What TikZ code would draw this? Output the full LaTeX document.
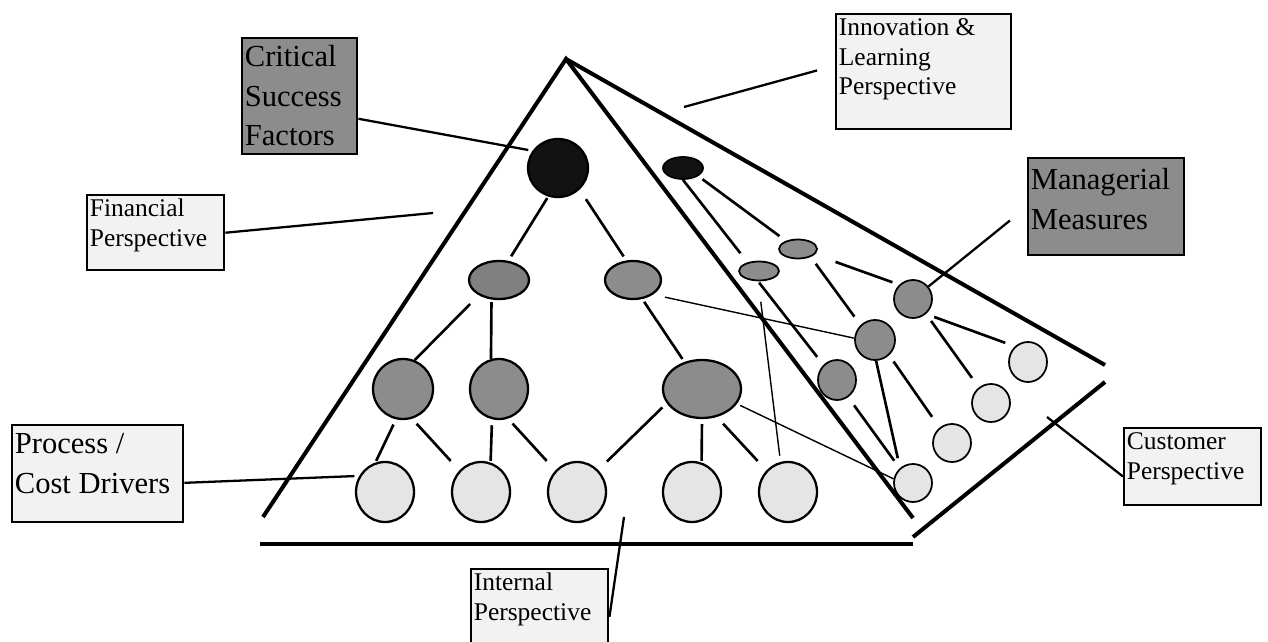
\documentclass[tikz,border=0pt]{standalone}
\usepackage{fontspec}
\setmainfont{Liberation Serif}
\usetikzlibrary{shapes.geometric}
\tikzstyle{lbox}=[draw=black, line width=1.4pt, fill=black!5, anchor=north west, inner sep=0pt]
\tikzstyle{dbox}=[lbox, fill=black!45]
\tikzstyle{blob}=[ellipse, draw=black, line width=1.3pt, inner sep=0pt, fill=black!45]
\tikzstyle{leaf}=[blob, fill=black!10]
\tikzstyle{edge}=[line width=2.3pt]
\tikzstyle{link}=[line width=1.5pt]
\tikzstyle{fine}=[line width=0.8pt]
\tikzstyle{call}=[line width=1.3pt]
\newcommand{\bigtxt}{\fontsize{17.4}{22.7}\selectfont}
\newcommand{\smalltxt}{\fontsize{14.5}{17}\selectfont}
\newcommand{\boxtxt}[3]{\parbox[c][#2][t]{#1}{\raggedright\leftskip=1.5pt\strut #3}}

\begin{document}
\begin{tikzpicture}[x=0.02cm, y=-0.02cm]
				\clip (0,0) rectangle (1268,642);
				% pyramid outline
				\coordinate (apex) at (566,59);
				\draw[edge] (263,517) -- (apex) -- (913,518);
				\draw[edge] (apex) -- (1105,365);
				\draw[edge] (260,544) -- (913,544);
				\draw[edge] (913,537) -- (1105,382);

				% labels
				\node[dbox, font=\bigtxt] (crit) at (241,37) {\boxtxt{2.3cm}{2.32cm}{Critical\\Success\\Factors}};
				\node[lbox, font=\smalltxt] (fin) at (86,194) {\boxtxt{2.74cm}{1.5cm}{Financial\\Perspective}};
				\node[lbox, font=\smalltxt] (inn) at (835,13) {\boxtxt{3.5cm}{2.3cm}{Innovation \&\\Learning\\Perspective}};
				\node[dbox, font=\bigtxt] (mm) at (1027,157) {\boxtxt{3.12cm}{1.94cm}{\rule{0pt}{18pt}Managerial\\Measures}};
				\node[lbox, font=\bigtxt] (pro) at (11,424) {\boxtxt{3.42cm}{1.94cm}{Process /\\Cost Drivers}};
				\node[lbox, font=\smalltxt] (int) at (470,568) {\boxtxt{2.74cm}{1.56cm}{Internal\\Perspective}};
				\node[lbox, font=\smalltxt] (cus) at (1123,427) {\boxtxt{2.74cm}{1.54cm}{Customer\\Perspective}};

				% left face
				\node[blob, fill=black!93, minimum width=1.2cm, minimum height=1.16cm] (crs) at (558,168) {};
				\node[blob, fill=black!50, minimum width=1.2cm, minimum height=0.76cm] (fa) at (499,280) {};
				\node[blob, minimum width=1.12cm, minimum height=0.76cm] (fb) at (633,280) {};
				\node[blob, minimum width=1.2cm, minimum height=1.2cm] (ia) at (403,389) {};
				\node[blob, minimum width=1.16cm, minimum height=1.2cm] (ib) at (499,389) {};
				\node[blob, minimum width=1.56cm, minimum height=1.16cm] (ic) at (702,389) {};
				\foreach \n/\x in {d1/385, d2/481, d3/577, d4/692, d5/788}
					\node[leaf, minimum width=1.16cm, minimum height=1.2cm] (\n) at (\x,492) {};

				% right face
				\node[blob, fill=black!93, line width=1pt, minimum width=0.8cm, minimum height=0.44cm] (ka) at (683,168) {};
				\node[blob, line width=1pt, minimum width=0.76cm, minimum height=0.38cm] (kb) at (798,249) {};
				\node[blob, line width=1pt, minimum width=0.8cm, minimum height=0.38cm] (kc) at (759,271) {};
				\node[blob, line width=1pt, minimum width=0.76cm, minimum height=0.76cm] (ma) at (913,299) {};
				\node[blob, line width=1pt, minimum width=0.8cm, minimum height=0.8cm] (mb) at (875,340) {};
				\node[blob, line width=1pt, minimum width=0.76cm, minimum height=0.8cm] (mc) at (837,380) {};
				\node[leaf, line width=1pt, minimum width=0.76cm, minimum height=0.8cm] (wa) at (1028,362) {};
				\node[leaf, line width=1pt, minimum width=0.76cm, minimum height=0.76cm] (wb) at (991,403) {};
				\node[leaf, line width=1pt, minimum width=0.76cm, minimum height=0.76cm] (wc) at (952,443) {};
				\node[leaf, line width=1pt, minimum width=0.76cm, minimum height=0.76cm] (wd) at (913,483) {};

				% tree links, left face
				\draw[link, shorten <=1pt, shorten >=3pt] (crs.-109) -- (fa.64);
				\draw[link, shorten <=6.5pt, shorten >=2.7pt] (crs.-45) -- (fb.109);
				\draw[link, shorten <=7pt] (fa.-143) -- (ia.68);
				\draw[link, shorten <=1.5pt] (fa.-111) -- (ib.105);
				\draw[link, shorten <=1.9pt, shorten >=2pt] (fb.-64) -- (ic.123);
				\draw[link, shorten <=3.3pt, shorten >=1pt] (ia.-103) -- (d1.108);
				\draw[link, shorten <=3.8pt, shorten >=7.3pt] (ia.-73) -- (d2.135);
				\draw[link, shorten <=3.4pt, shorten >=0.9pt] (ib.-103) -- (d2.72);
				\draw[link, shorten <=3.8pt, shorten >=7.3pt] (ib.-73) -- (d3.135);
				\draw[link, shorten <=3.4pt, shorten >=6.9pt] (ic.-158) -- (d3.46);
				\draw[link, shorten <=2.8pt, shorten >=0.9pt] (ic.-90) -- (d4.72);
				\draw[link, shorten <=5.2pt, shorten >=7.3pt] (ic.-62) -- (d5.135);

				% cross links
				\draw[fine, shorten <=6.9pt] (fb.-36) -- (mb.175);
				\draw[fine, shorten <=2pt] (ic.-23) -- (wd.168);
				\draw[fine, shorten <=11.7pt, shorten >=3.5pt] (kc.-94) -- (d5.104);

				% tree links, right face
				\draw[link, shorten >=6.6pt] (ka.-90) -- (kc.143);
				\draw[link, shorten <=3pt, shorten >=4.5pt] (ka.-28) -- (kb.146);
				\draw[link, shorten <=12.5pt, shorten >=4.1pt] (kb.-18) -- (ma.134);
				\draw[link, shorten <=4.8pt, shorten >=5.9pt] (kb.-32) -- (mb.134);
				\draw[link, shorten <=0.9pt, shorten >=5.7pt] (kc.-95) -- (mc.132);
				\draw[link, shorten <=4.9pt, shorten >=5.8pt] (ma.-49) -- (wa.130);
				\draw[link, shorten <=4.9pt, shorten >=6.6pt] (ma.-49) -- (wb.128);
				\draw[link, shorten <=4.3pt, shorten >=7.4pt] (mb.-47) -- (wc.129);
				\draw[link, shorten >=5.7pt] (mb.-87) -- (wd.131);
				\draw[link, shorten <=5.7pt, shorten >=5.3pt] (mc.-57) -- (wd.132);

				% callouts
				\coordinate (finpt) at (433,213);
				\coordinate (innpt) at (684,107);
				\coordinate (intpt) at (624,517);
				\coordinate (cuspt) at (1047,417);
				\draw[call, shorten >=2.4pt] (crit.-21) -- (crs.146);
				\draw[call] (fin.east) -- (finpt);
				\draw[call, shorten >=10.6pt] (innpt) -- (inn.176);
				\draw[call, shorten >=12.5pt] (ma.39) -- (mm.west);
				\draw[call, shorten >=2.7pt] (pro.-6) -- (d1.148);
				\draw[call] (int.-7) -- (intpt);
				\draw[call] (cus.188) -- (cuspt);
			\end{tikzpicture}
\end{document}
